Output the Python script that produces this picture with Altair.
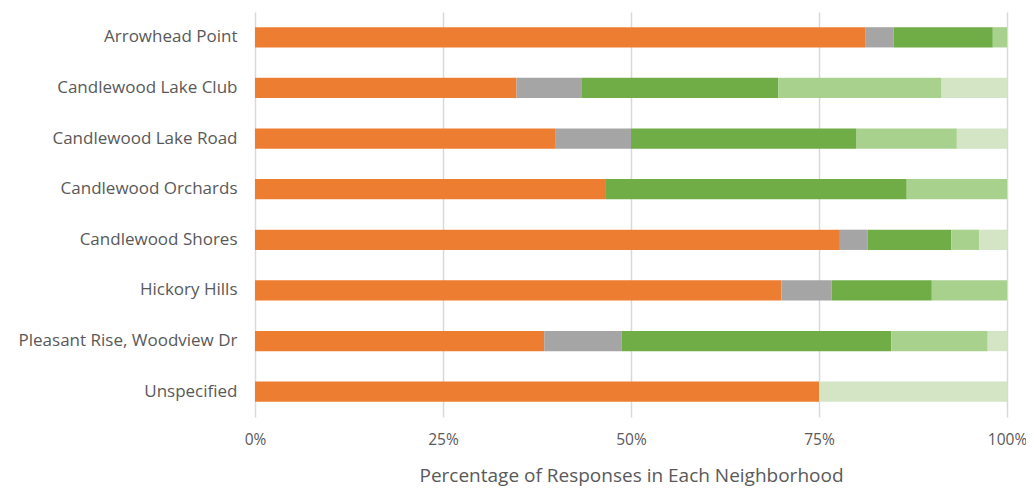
import altair as alt
import pandas as pd

neighborhoods = [
    "Arrowhead Point",
    "Candlewood Lake Club",
    "Candlewood Lake Road",
    "Candlewood Orchards",
    "Candlewood Shores",
    "Hickory Hills",
    "Pleasant Rise, Woodview Dr",
    "Unspecified",
]
series_names = ["Response 1", "Response 2", "Response 3", "Response 4", "Response 5"]
series_colors = ["#ED7D31", "#A5A5A5", "#70AD47", "#A9D18E", "#D3E5C5"]

resp1 = [43, 8, 12, 7, 21, 21, 15, 3]
resp2 = [2, 2, 3, 0, 1, 2, 4, 0]
resp3 = [7, 6, 9, 6, 3, 4, 14, 0]
resp4 = [1, 5, 4, 2, 1, 3, 5, 0]
resp5 = [0, 2, 2, 0, 1, 0, 1, 1]

rows = []
for si, vals in enumerate([resp1, resp2, resp3, resp4, resp5]):
    for n, v in zip(neighborhoods, vals):
        rows.append({"Neighborhood": n, "Series": series_names[si], "order": si, "count": v})
df = pd.DataFrame(rows)

FONT = "Open Sans"
chart = (
    alt.Chart(df)
    .mark_bar()
    .encode(
        y=alt.Y(
            "Neighborhood:N",
            sort=neighborhoods,
            scale=alt.Scale(paddingInner=0.6, paddingOuter=0.3),
            axis=alt.Axis(
                title=None, domain=False, ticks=False, grid=False,
                labelFontSize=17, labelColor="#595959", labelFont=FONT,
                labelPadding=18, labelLimit=300,
            ),
        ),
        x=alt.X(
            "count:Q",
            stack="normalize",
            scale=alt.Scale(domain=[0, 1], nice=False),
            axis=alt.Axis(
                title="Percentage of Responses in Each Neighborhood",
                format=".0%", values=[0, 0.25, 0.5, 0.75, 1],
                domain=False, ticks=False, labelFlush=False,
                grid=True, gridColor="#D9D9D9", gridWidth=1.5,
                labelFontSize=15.5, labelColor="#595959", labelFont=FONT,
                labelPadding=15,
                titleFontSize=19, titleColor="#595959", titleFont=FONT,
                titleFontWeight="normal", titlePadding=19,
            ),
        ),
        color=alt.Color(
            "Series:N",
            scale=alt.Scale(domain=series_names, range=series_colors),
            legend=None,
        ),
        order=alt.Order("order:Q"),
    )
    .properties(
        width=752,
        height=405,
        autosize=alt.AutoSizeParams(type="none"),
        padding={"left": 247, "top": 4, "right": 19, "bottom": 72},
    )
    .configure_view(stroke=None)
)

chart.save("out.html", embed_options={"renderer": "svg", "actions": False})
